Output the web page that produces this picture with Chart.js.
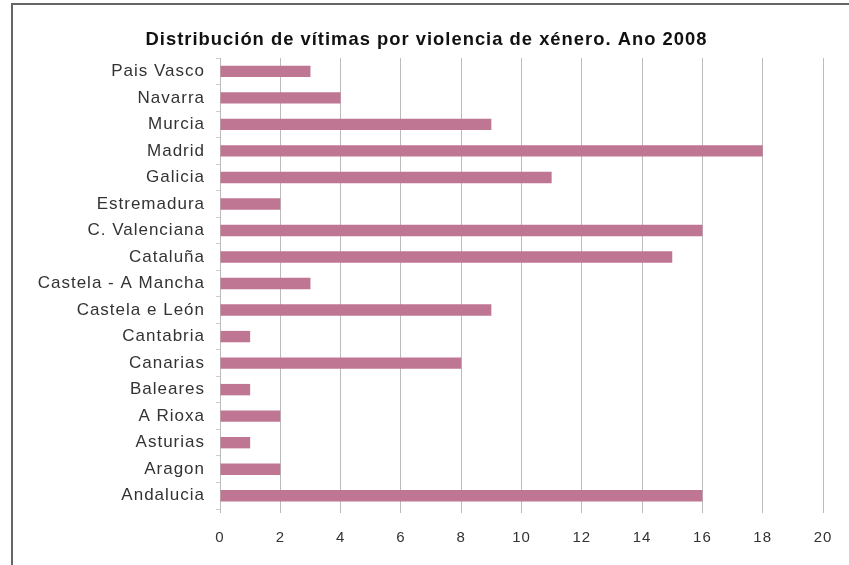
<!DOCTYPE html>
<html lang="gl">
<head>
<meta charset="UTF-8">
<title>Distribución de vítimas por violencia de xénero. Ano 2008</title>
<script src="https://cdn.jsdelivr.net/npm/chart.js"></script>
<style>
  html, body { margin: 0; padding: 0; background: #fff; }
  .wrap { position: relative; width: 849px; height: 565px; }
  .frame {
    position: absolute; left: 11px; top: 3px; right: -2px; bottom: -2px;
    border-left: 2px solid #666; border-top: 2px solid #666;
  }
  canvas { position: absolute; left: 0; top: 0; }
</style>
</head>
<body>
<div class="wrap">
  <div class="frame"></div>
  <canvas id="chart" width="849" height="565"></canvas>
</div>
<script>
const categories = [
  'Pais Vasco', 'Navarra', 'Murcia', 'Madrid', 'Galicia', 'Estremadura',
  'C. Valenciana', 'Cataluña', 'Castela - A Mancha', 'Castela e León',
  'Cantabria', 'Canarias', 'Baleares', 'A Rioxa', 'Asturias', 'Aragon', 'Andalucia'
];
const victims = [3, 4, 9, 18, 11, 2, 16, 15, 3, 9, 1, 8, 1, 2, 1, 2, 16];
const xTicks = [0, 2, 4, 6, 8, 10, 12, 14, 16, 18, 20];

// the source chart uses loosely spaced lettering
const spacing = {
  id: 'spacing',
  afterInit: chart => { chart.ctx.letterSpacing = '1px'; }
};

const FONT = 'Liberation Sans, Arial, sans-serif';

new Chart(document.getElementById('chart'), {
  type: 'bar',
  plugins: [spacing],
  data: {
    labels: categories,
    datasets: [{
      data: victims,
      backgroundColor: '#bf7693',
      borderWidth: 0,
      barPercentage: 0.86,
      categoryPercentage: 0.5
    }]
  },
  options: {
    indexAxis: 'y',
    responsive: false,
    animation: false,
    layout: { padding: { left: 4, right: 0, top: 0, bottom: 0 } },
    plugins: {
      legend: { display: false },
      tooltip: { enabled: false },
      title: {
        display: true,
        text: 'Distribución de vítimas por violencia de xénero. Ano 2008',
        color: '#111',
        font: { family: FONT, size: 18.4, weight: 'bold' },
        padding: { top: 29, bottom: 7 }
      }
    },
    scales: {
      x: {
        min: 0,
        max: 20,
        afterBuildTicks: s => { s.ticks = xTicks.map(v => ({ value: v })); },
        grid: { color: '#bbb', lineWidth: 1, tickLength: 4 },
        border: { display: false },
        ticks: {
          color: '#333',
          padding: 16,
          font: { family: FONT, size: 15 }
        },
        afterFit: s => { s.height = 56; s.paddingRight = 26; }
      },
      y: {
        grid: { drawOnChartArea: false, color: '#ccc', tickLength: 4, offset: true },
        border: { display: false },
        ticks: {
          color: '#333',
          padding: 11,
          font: { family: FONT, size: 17 }
        },
        afterFit: s => { s.width = 216; }
      }
    }
  }
});
</script>
</body>
</html>
